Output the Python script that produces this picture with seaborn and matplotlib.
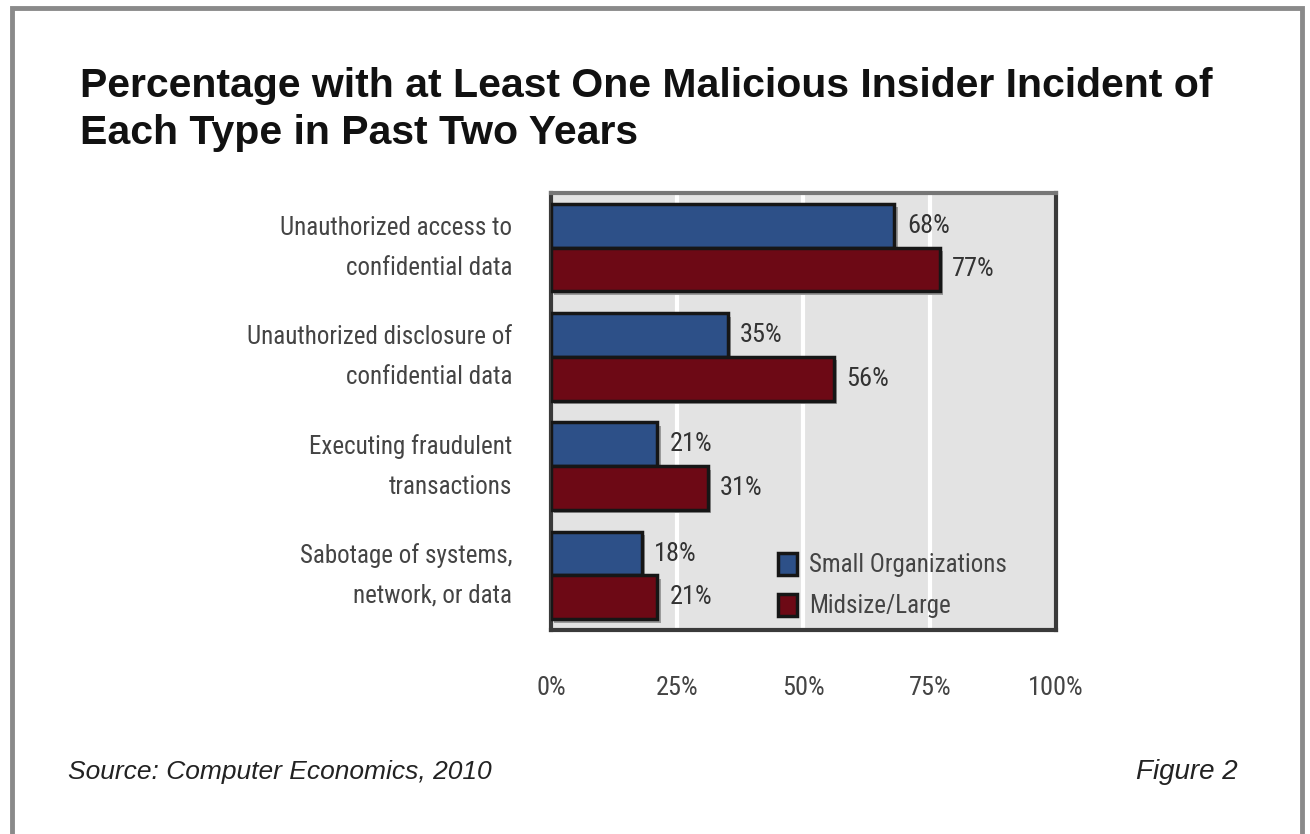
import pandas as pd
import seaborn as sns
import matplotlib.pyplot as plt
import matplotlib.patheffects as pe
from matplotlib.patches import Rectangle, Patch

# datos
categories = [
    "Unauthorized access to\nconfidential data",
    "Unauthorized disclosure of\nconfidential data",
    "Executing fraudulent\ntransactions",
    "Sabotage of systems,\nnetwork, or data",
]
small_org = [68, 35, 21, 18]
midsize_large = [77, 56, 31, 21]
series_names = ["Small Organizations", "Midsize/Large"]
x_ticks = [0, 25, 50, 75, 100]

df = pd.DataFrame({
    "category": categories * 2,
    "group": [series_names[0]] * 4 + [series_names[1]] * 4,
    "value": small_org + midsize_large,
})

colors = {"Small Organizations": "#2d5088", "Midsize/Large": "#6d0915"}
narrow = ["Roboto Condensed", "DejaVu Sans"]

sns.set_style("white")
plt.rcParams["font.family"] = ["Liberation Sans", "DejaVu Sans"]

fig = plt.figure(figsize=(13.1, 8.34), dpi=100)
ax = fig.add_axes([0.4206, 0.2446, 0.3855, 0.5240])
ax.set_facecolor("#e3e3e3")

sns.barplot(data=df, y="category", x="value", hue="group", palette=colors,
            orient="h", width=0.8, saturation=1, edgecolor="#161616", linewidth=2.5,
            legend=False, ax=ax, zorder=3)

# sombra de las barras
for bar in ax.patches:
    bar.set_path_effects([pe.SimplePatchShadow(offset=(2.5, -2.5), shadow_rgbFace="#9a9a9a", alpha=1.0),
                          pe.Normal()])

# etiquetas de valores
for cont in ax.containers:
    ax.bar_label(cont, labels=[f"{v:.0f}%" for v in cont.datavalues], padding=9,
                 fontsize=19, color="#333333", family=narrow)

ax.set_xlim(0, 100)
ax.set_ylim(3.5, -0.5)
ax.set_xticks(x_ticks)
ax.set_xticklabels([f"{t}%" for t in x_ticks])
ax.xaxis.grid(True, color="white", linewidth=3)
ax.set_axisbelow(True)
ax.set_xlabel("")
ax.set_ylabel("")
ax.tick_params(axis="x", length=0, pad=33, labelsize=19, labelcolor="#444444")
ax.tick_params(axis="y", length=0, pad=28, labelsize=18, labelcolor="#444444")
for lab in ax.get_xticklabels() + ax.get_yticklabels():
    lab.set_family(narrow)
for lab in ax.get_yticklabels():
    lab.set_horizontalalignment("right")
    lab.set_verticalalignment("center")
    lab.set_multialignment("right")
    lab.set_linespacing(1.85)

for side in ["left", "bottom", "right"]:
    ax.spines[side].set_color("#3a3a3a")
    ax.spines[side].set_linewidth(3)
ax.spines["top"].set_color("#777777")
ax.spines["top"].set_linewidth(3)

# leyenda
handles = [Patch(facecolor=colors[n], edgecolor="#161616", linewidth=2.5) for n in series_names]
ax.legend(handles, series_names, loc="lower left", bbox_to_anchor=(0.405, -0.025),
          frameon=False, handlelength=0.75, handleheight=1.0, handletextpad=0.5,
          labelspacing=0.65, prop={"family": narrow, "size": 18}, labelcolor="#444444")

# titulo y textos
fig.text(0.061, 0.869, "Percentage with at Least One Malicious Insider Incident of\nEach Type in Past Two Years",
         fontsize=29.5, fontweight="bold", color="#111111", va="center", ha="left", linespacing=1.3)
fig.text(0.052, 0.074, "Source: Computer Economics, 2010", fontsize=19, style="italic",
         color="#222222", va="center", ha="left")
fig.text(0.945, 0.074, "Figure 2", fontsize=20, style="italic", color="#222222",
         va="center", ha="right")

# marco exterior
fig.patches.append(Rectangle((0.009, -0.05), 0.985, 1.04, transform=fig.transFigure,
                             fill=False, edgecolor="#8a8a8a", linewidth=3.5, zorder=0))

fig.savefig("out.png", dpi=100)
